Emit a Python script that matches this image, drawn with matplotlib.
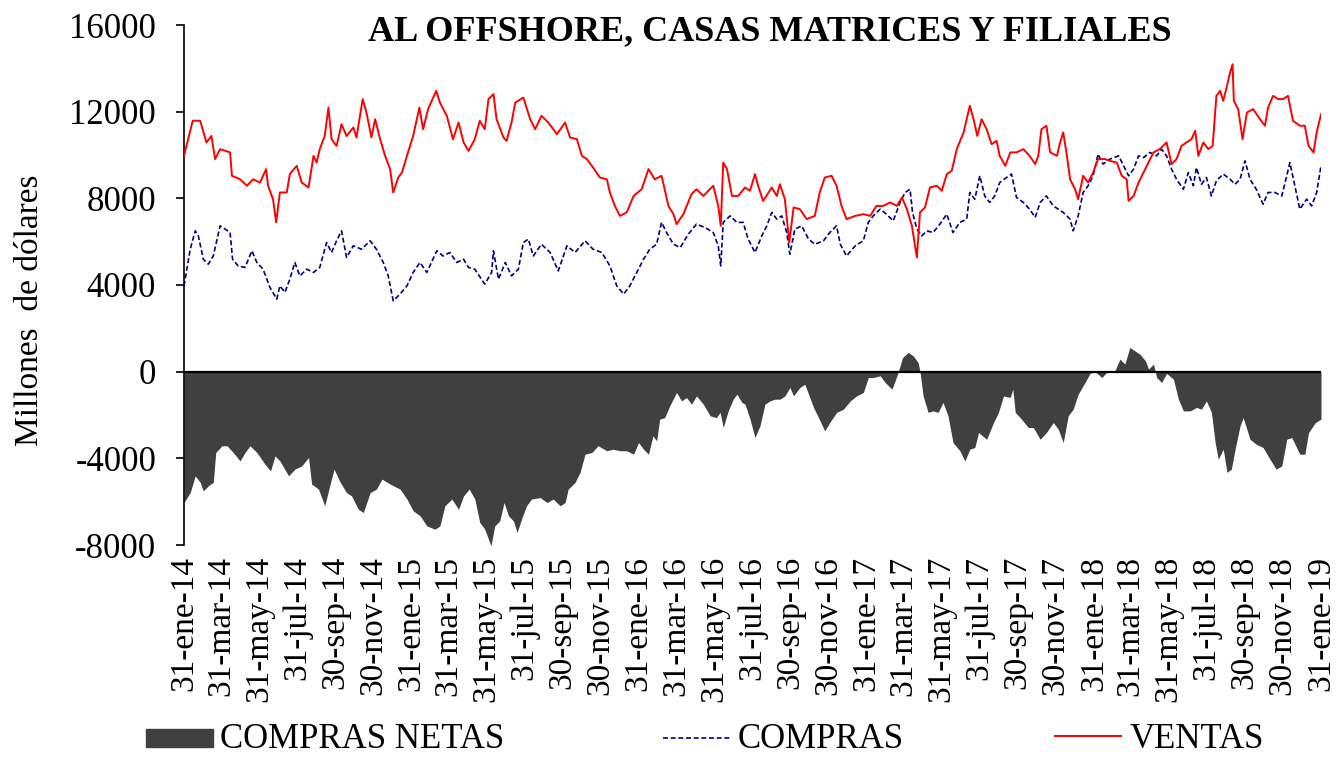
import pandas as pd
import matplotlib
matplotlib.use("Agg")
import matplotlib.pyplot as plt
from matplotlib.patches import Rectangle
from matplotlib.lines import Line2D

plt.rcParams["font.family"] = ["Liberation Serif", "DejaVu Serif"]

inicio = pd.Timestamp("2014-01-31")
fin = pd.Timestamp("2019-01-31")

# (días desde el 31-ene-14, millones de dólares)
ventas_obs = [
    (0, 9960), (14, 11580), (26, 11580), (36, 10580), (44, 10880), (50, 9810), (58, 10270), (74, 10120),
    (77, 9040), (90, 8880), (101, 8580), (111, 8880), (122, 8730), (132, 9350), (135, 8580), (143, 7960),
    (148, 6890), (154, 8270), (165, 8270), (170, 9120), (181, 9500), (189, 8730), (200, 8500), (208, 9960),
    (213, 9650), (218, 10270), (226, 10880), (232, 12190), (237, 10730), (245, 10420), (253, 11420),
    (261, 10880), (272, 11270), (277, 10810), (287, 12580), (293, 11960), (301, 10810), (307, 11650),
    (315, 10730), (323, 9960), (331, 9350), (336, 8270), (344, 8960), (350, 9190), (358, 9960), (368, 10880),
    (378, 12190), (384, 11190), (392, 12120), (405, 12960), (411, 12420), (422, 11810), (432, 10730),
    (441, 11500), (449, 10580), (457, 10190), (467, 10730), (475, 11580), (483, 11190), (489, 12580),
    (497, 12810), (502, 11650), (513, 10810), (518, 10650), (526, 11500), (532, 12420), (545, 12650),
    (556, 11650), (564, 11190), (574, 11810), (585, 11500), (599, 10960), (612, 11500), (620, 10810),
    (631, 10730), (639, 9960), (647, 9810), (657, 9420), (668, 8960), (679, 8880), (684, 8270), (692, 7650),
    (700, 7190), (711, 7350), (722, 8110), (735, 8420), (746, 9350), (756, 8880), (767, 9040), (778, 7650),
    (786, 7270), (791, 6810), (802, 7270), (815, 8190), (823, 8420), (834, 8110), (850, 8580), (858, 7650),
    (862, 6730), (866, 9650), (872, 9350), (880, 8110), (890, 8110), (901, 8500), (909, 8350), (917, 9120),
    (922, 8580), (930, 7880), (944, 8500), (952, 8110), (957, 8650), (965, 7960), (972, 5960), (979, 7580),
    (989, 7500), (1000, 7040), (1013, 7190), (1021, 8270), (1029, 8960), (1040, 9040), (1048, 8580),
    (1056, 7650), (1064, 7040), (1078, 7190), (1091, 7270), (1102, 7190), (1112, 7650), (1123, 7650),
    (1134, 7810), (1145, 7650), (1153, 8040), (1161, 7500), (1169, 6730), (1177, 5270), (1182, 7350),
    (1190, 7580), (1198, 8500), (1209, 8580), (1217, 8350), (1225, 9120), (1233, 9270), (1241, 10270),
    (1252, 11040), (1262, 12270), (1268, 11650), (1274, 10880), (1281, 11650), (1289, 11190), (1297, 10500),
    (1305, 10650), (1310, 9960), (1319, 9500), (1327, 10120), (1337, 10120), (1348, 10270), (1358, 9960),
    (1367, 9580), (1372, 9960), (1377, 11190), (1385, 11350), (1391, 10120), (1402, 9960), (1407, 10580),
    (1412, 11040), (1418, 9960), (1423, 8880), (1431, 8420), (1436, 7960), (1444, 9040), (1452, 8730),
    (1460, 9190), (1468, 9810), (1479, 9810), (1487, 9730), (1498, 9650), (1506, 9040), (1514, 8880),
    (1517, 7880), (1525, 8110), (1533, 8730), (1541, 9190), (1549, 9650), (1557, 10120), (1567, 10270),
    (1578, 10580), (1586, 9580), (1594, 9810), (1602, 10420), (1610, 10580), (1618, 10730), (1624, 11120),
    (1629, 9960), (1637, 10580), (1645, 10270), (1652, 10420), (1658, 12730), (1664, 12960), (1669, 12500),
    (1675, 13190), (1680, 13810), (1684, 14190), (1686, 12500), (1693, 12120), (1700, 10730), (1707, 11960),
    (1717, 12120), (1728, 11650), (1736, 11350), (1741, 12190), (1749, 12730), (1757, 12580), (1765, 12580),
    (1773, 12730), (1781, 11580), (1792, 11350), (1800, 11350), (1806, 10420), (1814, 10120), (1819, 11040),
    (1826, 11880),
]

compras_obs = [
    (0, 3960), (10, 5650), (18, 6500), (23, 6270), (31, 5190), (39, 4960), (47, 5340), (58, 6730), (66, 6580),
    (74, 6420), (78, 5190), (87, 4880), (98, 4810), (109, 5580), (117, 5040), (127, 4730), (138, 3890),
    (149, 3350), (154, 3960), (162, 3660), (170, 4270), (178, 5040), (186, 4420), (197, 4730), (208, 4580),
    (218, 4810), (229, 5960), (237, 5500), (245, 6040), (253, 6500), (261, 5270), (272, 5810), (285, 5650),
    (299, 6040), (309, 5650), (320, 5040), (328, 4420), (336, 3270), (347, 3580), (358, 3960), (368, 4580),
    (379, 5040), (390, 4580), (406, 5580), (416, 5340), (427, 5500), (438, 5040), (449, 5190), (457, 4810),
    (467, 4730), (483, 4040), (494, 4580), (497, 5580), (505, 4270), (516, 5040), (526, 4420), (537, 4730),
    (545, 5960), (553, 6120), (561, 5340), (574, 5880), (588, 5500), (601, 4650), (615, 5810), (628, 5500),
    (644, 6040), (657, 5650), (671, 5500), (684, 4880), (695, 3960), (706, 3580), (716, 3960), (727, 4580),
    (738, 5190), (748, 5650), (759, 5880), (767, 6890), (775, 6420), (786, 5880), (797, 5730), (810, 6350),
    (823, 6810), (837, 6650), (850, 6420), (858, 5810), (862, 4880), (866, 6890), (877, 7190), (888, 6890),
    (898, 6890), (906, 6120), (917, 5500), (928, 6270), (936, 6730), (944, 7350), (952, 7040), (960, 7190),
    (968, 6420), (973, 5420), (981, 6580), (992, 6730), (1003, 6120), (1013, 5880), (1027, 6040), (1037, 6420),
    (1048, 6730), (1054, 5880), (1064, 5340), (1078, 5810), (1091, 6040), (1099, 6890), (1107, 7190),
    (1118, 7500), (1128, 7270), (1139, 6960), (1150, 7810), (1158, 8270), (1166, 8420), (1170, 7350),
    (1177, 6580), (1185, 6270), (1193, 6500), (1203, 6420), (1214, 6810), (1225, 7270), (1235, 6420),
    (1246, 6890), (1257, 7040), (1262, 8270), (1270, 7960), (1278, 9040), (1286, 8110), (1294, 7810),
    (1302, 8110), (1310, 8730), (1321, 8960), (1329, 9120), (1337, 8040), (1348, 7810), (1358, 7500),
    (1367, 7120), (1375, 7810), (1385, 8110), (1396, 7650), (1404, 7500), (1412, 7350), (1423, 7040),
    (1428, 6500), (1436, 7190), (1444, 8270), (1452, 8580), (1460, 9040), (1468, 10040), (1476, 9580),
    (1487, 9810), (1501, 9960), (1509, 9500), (1517, 9040), (1525, 9350), (1533, 9960), (1541, 9880),
    (1551, 10120), (1562, 9960), (1570, 10270), (1578, 9960), (1586, 9350), (1594, 8880), (1605, 8420),
    (1613, 9190), (1621, 8580), (1626, 9420), (1634, 8650), (1642, 8960), (1650, 8110), (1658, 8810),
    (1669, 9120), (1680, 8880), (1688, 8650), (1696, 8880), (1704, 9730), (1712, 8880), (1722, 8420),
    (1733, 7730), (1741, 8270), (1752, 8270), (1763, 8110), (1771, 9040), (1776, 9650), (1784, 8580),
    (1792, 7500), (1803, 7960), (1811, 7650), (1819, 8270), (1826, 9500),
]

netas_obs = [
    (0, -6040), (10, -5580), (18, -4810), (26, -5110), (31, -5500), (39, -5270), (47, -5110), (51, -3730),
    (61, -3420), (69, -3420), (79, -3730), (90, -4120), (98, -3730), (106, -3420), (117, -3730), (130, -4270),
    (139, -4580), (146, -3890), (154, -4120), (168, -4810), (178, -4500), (189, -4350), (200, -3960),
    (205, -5190), (216, -5420), (226, -6190), (234, -5270), (241, -4500), (251, -5110), (261, -5580),
    (269, -5730), (280, -6350), (288, -6500), (299, -5580), (309, -5420), (318, -4960), (331, -5190),
    (347, -5420), (358, -5880), (368, -6420), (379, -6650), (390, -7120), (403, -7270), (411, -7120),
    (419, -6190), (430, -5880), (441, -6350), (449, -5730), (458, -5420), (467, -5880), (475, -6960),
    (483, -7270), (493, -8040), (499, -7120), (507, -6890), (514, -6040), (521, -6650), (529, -6890),
    (535, -7420), (542, -6810), (550, -6190), (558, -5880), (572, -5810), (583, -6040), (593, -5880),
    (604, -6190), (612, -6040), (617, -5420), (628, -5110), (636, -4650), (644, -3810), (655, -3730),
    (665, -3420), (679, -3650), (689, -3580), (700, -3650), (711, -3650), (722, -3810), (730, -3270),
    (738, -3580), (746, -3810), (753, -2960), (759, -3190), (764, -2190), (772, -2120), (780, -1580),
    (791, -960), (799, -1350), (807, -1190), (815, -1500), (823, -1120), (834, -1500), (845, -2040),
    (855, -2120), (861, -1880), (866, -2580), (874, -1810), (882, -1270), (888, -1040), (896, -1420),
    (901, -1500), (909, -2190), (917, -3040), (925, -2500), (933, -1500), (941, -1350), (949, -1270),
    (957, -1270), (965, -1120), (973, -730), (979, -1120), (989, -730), (997, -580), (1005, -1190),
    (1011, -1650), (1019, -2120), (1029, -2730), (1037, -2350), (1048, -1880), (1059, -1730), (1070, -1350),
    (1080, -1120), (1091, -960), (1099, -270), (1107, -270), (1118, -190), (1126, -500), (1137, -810),
    (1145, -190), (1154, 650), (1163, 890), (1171, 730), (1179, 420), (1182, 0), (1187, -1120),
    (1195, -1880), (1203, -1810), (1211, -1880), (1219, -1420), (1227, -2040), (1235, -3270), (1246, -3650),
    (1254, -4120), (1262, -3580), (1270, -3500), (1276, -2810), (1289, -3120), (1300, -2350), (1308, -1880),
    (1316, -1120), (1327, -1190), (1331, -810), (1335, -1880), (1345, -2190), (1356, -2580), (1364, -2580),
    (1375, -3120), (1385, -2810), (1396, -2350), (1404, -2650), (1412, -3270), (1420, -2040), (1428, -1730),
    (1436, -1040), (1447, -500), (1455, -80), (1463, 0), (1474, -270), (1484, 40), (1495, 40), (1503, 580),
    (1511, 350), (1519, 1120), (1527, 960), (1535, 810), (1544, 500), (1549, 120), (1557, 350), (1562, -270),
    (1570, -500), (1578, -80), (1589, -350), (1597, -1270), (1605, -1810), (1616, -1810), (1626, -1650),
    (1634, -1730), (1642, -1350), (1650, -1880), (1656, -3270), (1661, -4040), (1669, -3580), (1675, -4650),
    (1682, -4500), (1688, -3580), (1696, -2500), (1701, -2120), (1712, -3120), (1722, -3350), (1733, -3500),
    (1744, -4040), (1754, -4500), (1763, -4350), (1771, -3120), (1779, -3040), (1792, -3810), (1800, -3810),
    (1806, -2810), (1817, -2350), (1826, -2190),
]

meses = ["ene", "feb", "mar", "abr", "may", "jun", "jul", "ago", "sep", "oct", "nov", "dic"]
y_ticks = [-8000, -4000, 0, 4000, 8000, 12000, 16000]

titulo = "AL OFFSHORE, CASAS MATRICES Y FILIALES"
eje_y = "Millones  de dólares"
leyenda = ["COMPRAS NETAS", "COMPRAS", "VENTAS"]


def serie(obs):
    dias, valores = zip(*obs)
    fechas = inicio + pd.to_timedelta(list(dias), unit="D")
    return fechas, list(valores)


f_ven, v_ven = serie(ventas_obs)
f_com, v_com = serie(compras_obs)
f_net, v_net = serie(netas_obs)

GRIS = "#404040"
AZUL = "#000080"
ROJO = "#FF0000"

fig = plt.figure(figsize=(13.39, 7.57), dpi=100)
ax = fig.add_axes([184 / 1339, 1 - 545 / 757, (1321 - 184) / 1339, 520 / 757])

ax.fill_between(f_net, v_net, 0, color=GRIS, linewidth=0, zorder=1)
ax.axhline(0, color="black", linewidth=1.6, zorder=2)
ax.plot(f_com, v_com, color=AZUL, linewidth=1.2, linestyle=(0, (3, 1.6)), zorder=3)
ax.plot(f_ven, v_ven, color=ROJO, linewidth=1.4, zorder=4)

ax.set_xlim(inicio, fin)
ax.set_ylim(-8000, 16000)

ax.set_yticks(y_ticks)
ax.set_yticklabels([str(v) for v in y_ticks])
ax.tick_params(axis="y", direction="out", length=6, width=1.2, pad=14, labelsize=25)

marcas = pd.date_range(inicio, fin, freq="2ME")
ax.set_xticks(marcas)
ax.set_xticklabels([f"{d.day}-{meses[d.month - 1]}-{d.strftime('%y')}" for d in marcas],
                   rotation=90, fontsize=24)
ax.tick_params(axis="x", length=0, pad=8)

for lado in ("top", "right", "bottom"):
    ax.spines[lado].set_visible(False)
ax.spines["left"].set_linewidth(1.2)

fig.text(770 / 1339, 1 - 40 / 757, titulo, ha="center", va="baseline",
         fontsize=26, fontweight="bold")
fig.text(30 / 1339, 1 - 310 / 757, eje_y, rotation=90, ha="center", va="center", fontsize=24)

# leyenda inferior
fig.patches.append(Rectangle((146 / 1339, 1 - 747 / 757), 67 / 1339, 18 / 757,
                             transform=fig.transFigure, color=GRIS))
fig.lines.append(Line2D([663 / 1339, 731 / 1339], [1 - 738 / 757] * 2, transform=fig.transFigure,
                        color=AZUL, linewidth=1.2, linestyle=(0, (3, 1.6))))
fig.lines.append(Line2D([1055 / 1339, 1121 / 1339], [1 - 736 / 757] * 2, transform=fig.transFigure,
                        color=ROJO, linewidth=1.4))
for xpx, texto in zip([220, 738, 1130], leyenda):
    fig.text(xpx / 1339, 1 - 748 / 757, texto, ha="left", va="baseline", fontsize=25)

fig.savefig("out.png", dpi=100)
